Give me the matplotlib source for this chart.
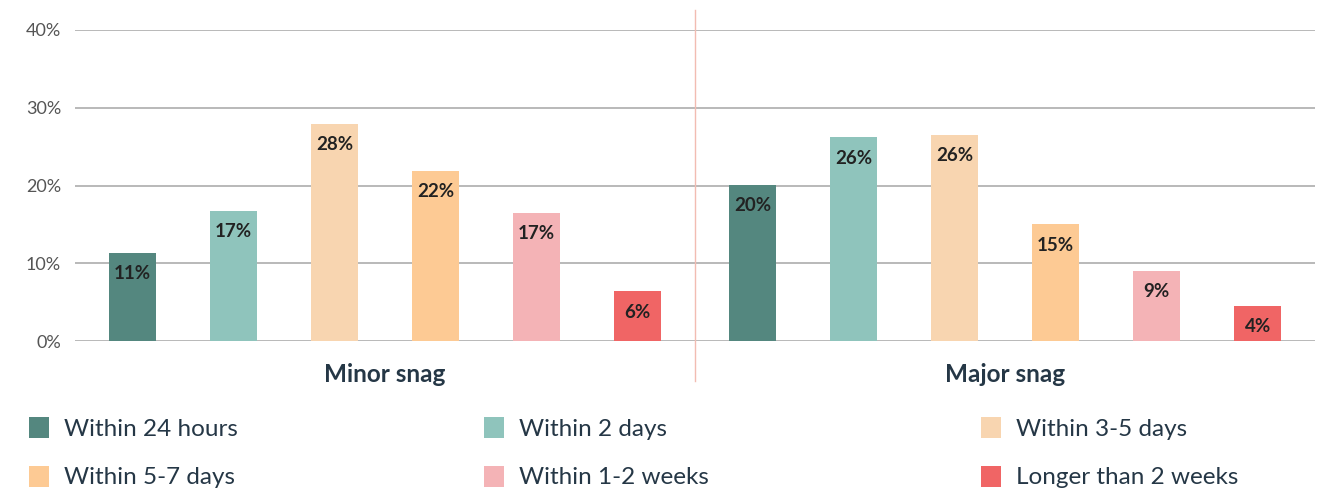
import matplotlib
matplotlib.use("Agg")
import matplotlib.pyplot as plt
from matplotlib.patches import Patch
import numpy as np

plt.rcParams['font.family'] = ['Lato', 'DejaVu Sans']

# data
categories = ["Minor snag", "Major snag"]
series_names = ["Within 24 hours", "Within 2 days", "Within 3-5 days",
                "Within 5-7 days", "Within 1-2 weeks", "Longer than 2 weeks"]
minor_vals = [11.3, 16.7, 27.9, 21.9, 16.5, 6.4]
major_vals = [20.1, 26.2, 26.5, 15.0, 9.0, 4.5]
minor_labels = ["11%", "17%", "28%", "22%", "17%", "6%"]
major_labels = ["20%", "26%", "26%", "15%", "9%", "4%"]
colors = ["#54877f", "#8fc4bc", "#f8d5b0", "#fdca94", "#f4b3b6", "#f06565"]

TEXT = "#253746"

fig = plt.figure(figsize=(13.29, 4.91), dpi=100)
ax = fig.add_axes([75 / 1329, 1 - 341 / 491, 1240 / 1329, 311 / 491])

x = np.arange(len(categories))
step = 0.163
width = 0.076
for i, name in enumerate(series_names):
    vals = [minor_vals[i], major_vals[i]]
    labs = [minor_labels[i], major_labels[i]]
    xs = x + (i - 2.5) * step
    bars = ax.bar(xs, vals, width=width, color=colors[i], label=name, zorder=2)
    for b, lab in zip(bars, labs):
        ax.annotate(lab, (b.get_x() + b.get_width() / 2, b.get_height()),
                    xytext=(0, -15), textcoords="offset points",
                    ha="center", va="center", fontsize=13.5,
                    fontweight="bold", color="#222222", zorder=3)

ax.set_xlim(-0.5, 1.5)
ax.set_ylim(0, 40)
ax.set_yticks([0, 10, 20, 30, 40])
ax.set_yticklabels(["0%", "10%", "20%", "30%", "40%"])
ax.yaxis.grid(True, color="#a6a6a6", linewidth=1.1, zorder=0)
ax.set_axisbelow(True)
ax.tick_params(axis="y", length=0, pad=10, labelsize=13, labelcolor="#555555")
ax.set_xticks(x)
ax.set_xticklabels(categories, fontsize=17.5, fontweight="bold", color=TEXT)
ax.tick_params(axis="x", length=0, pad=16)
for s in ax.spines.values():
    s.set_visible(False)

# divider between the two groups
ax.plot([0.5, 0.5], [-0.129, 1.064], color="#f2bcb2", linewidth=1,
        transform=ax.get_xaxis_transform(), clip_on=False)

# legend, three columns of two rows
handles = [Patch(facecolor=c, edgecolor="none") for c in colors]
col_x = [22 / 1329, 477 / 1329, 974 / 1329]
for j in range(3):
    idx = [j, j + 3]
    leg = fig.legend([handles[k] for k in idx], [series_names[k] for k in idx],
                     loc="upper left", bbox_to_anchor=(col_x[j], 1 - 410 / 491),
                     frameon=False, fontsize=17.5, handlelength=0.82,
                     handleheight=0.95, handletextpad=0.62, labelspacing=1.05,
                     borderaxespad=0, borderpad=0.3)
    for t in leg.get_texts():
        t.set_color(TEXT)

fig.savefig("out.png", dpi=100, facecolor="white")
